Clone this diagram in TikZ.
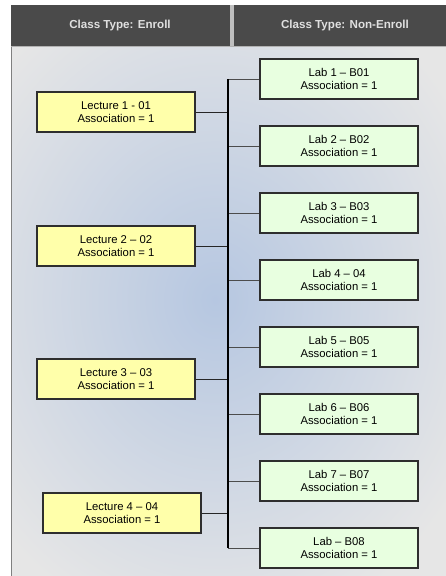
\documentclass[tikz,border=0pt]{standalone}
\usepackage{fontspec}
\setmainfont{Liberation Sans}
\usepackage{tikz}
\usetikzlibrary{positioning}

\definecolor{headgray}{HTML}{4A4A4A}
\definecolor{headtext}{HTML}{E0E0E0}
\definecolor{bodygray}{HTML}{E6E6E6}
\definecolor{bodyblue}{HTML}{B6C7E1}
\definecolor{lecfill}{HTML}{FFFFAA}
\definecolor{labfill}{HTML}{E8FFE0}
\definecolor{boxline}{HTML}{2E2E2E}

\tikzset{
  classbox/.style={draw=boxline, line width=1.1pt, minimum width=158pt,
    minimum height=40pt, inner sep=0pt, align=center,
    font=\fontsize{11.3}{13.5}\selectfont},
  lecture/.style={classbox, fill=lecfill},
  lab/.style={classbox, fill=labfill},
  heading/.style={text=headtext, font=\fontsize{11.6}{13}\selectfont\bfseries},
  trunkline/.style={line width=1.3pt, black},
  leclink/.style={line width=1pt, black!85},
  lablink/.style={line width=1pt, black!70}
}

\begin{document}
\begin{tikzpicture}[x=1pt, y=-1pt]
			\useasboundingbox (0,0) rectangle (446,576);
			% background of the body
			\begin{scope}
				\clip (11,46) rectangle (446,576);
				\fill[bodygray] (11,46) rectangle (446,576);
				\shade[inner color=bodyblue, outer color=bodygray] (215,300) ellipse (290pt and 340pt);
			\end{scope}
			\draw[line width=1.5pt, black!50] (11.5,46) -- (11.5,576);
			% column headings
			\fill[headgray] (11,5) rectangle (446,46);
			\fill[black!25] (229.5,5) rectangle (233.5,46);
			\draw[black!30, line width=1pt] (11,46) -- (446,46);
			\node[heading] (enroll) at (120,25) {Class Type: Enroll};
			\node[heading] (nonenroll) at (345,25) {Class Type: Non-Enroll};

			\coordinate (trunk) at (228,0);

			\node[lecture] (lec1) at (116,112) {Lecture 1 - 01\\Association = 1};
			\node[lecture] (lec2) at (116,246) {Lecture 2 -- 02\\Association = 1};
			\node[lecture] (lec3) at (116,379) {Lecture 3 -- 03\\Association = 1};
			\node[lecture] (lec4) at (122,513) {Lecture 4 -- 04\\Association = 1};

			\node[lab] (lab1) at (339,79) {Lab 1 -- B01\\Association = 1};
			\node[lab] (lab2) at (339,146) {Lab 2 -- B02\\Association = 1};
			\node[lab] (lab3) at (339,213) {Lab 3 -- B03\\Association = 1};
			\node[lab] (lab4) at (339,280) {Lab 4 -- 04\\Association = 1};
			\node[lab] (lab5) at (339,347) {Lab 5 -- B05\\Association = 1};
			\node[lab] (lab6) at (339,414) {Lab 6 -- B06\\Association = 1};
			\node[lab] (lab7) at (339,481) {Lab 7 -- B07\\Association = 1};
			\node[lab] (lab8) at (339,548) {Lab -- B08\\Association = 1};

			\path[lablink]
			(lab1.west) edge (lab1.west -| trunk)
			(lab2.west) edge (lab2.west -| trunk)
			(lab3.west) edge (lab3.west -| trunk)
			(lab4.west) edge (lab4.west -| trunk)
			(lab5.west) edge (lab5.west -| trunk)
			(lab6.west) edge (lab6.west -| trunk)
			(lab7.west) edge (lab7.west -| trunk)
			(lab8.west) edge (lab8.west -| trunk);
			\path[leclink]
			(lec1.east) edge (lec1.east -| trunk)
			(lec2.east) edge (lec2.east -| trunk)
			(lec3.east) edge (lec3.east -| trunk)
			(lec4.east) edge (lec4.east -| trunk);
			\draw[trunkline] (lab1.west -| trunk) -- (lab8.west -| trunk);
		\end{tikzpicture}
\end{document}
